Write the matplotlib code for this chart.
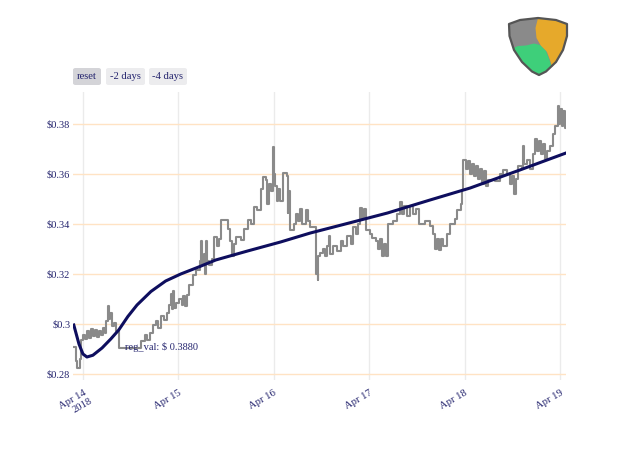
import matplotlib
matplotlib.use("Agg")
import matplotlib.pyplot as plt
from matplotlib.patches import Polygon, FancyBboxPatch

plt.rcParams['font.family'] = ['Liberation Serif', 'DejaVu Serif']

# hours since Apr 14 2018 00:00, price in USD
price_hours = [
    -2.5, -1.8, -1.5, -0.8, -0.5, 0.0, 0.5, 1.0, 1.5, 2.0, 2.5, 3.0, 3.5, 4.0, 4.5,
    5.0, 5.5, 5.8, 6.3, 6.5, 6.8, 7.3, 7.8, 8.3, 9.0, 14.6, 15.6, 16.1, 16.8, 17.6,
    18.3, 18.8, 19.6, 20.3, 21.1, 21.6, 22.1, 22.3, 22.6, 22.8, 23.4, 24.1, 24.8, 25.1,
    25.6, 26.1, 26.6, 27.6, 28.4, 29.4, 29.6, 29.9, 30.4, 30.6, 30.9, 31.1, 31.6, 32.4,
    32.9, 33.6, 34.1, 34.6, 35.6, 36.4, 36.9, 37.4, 37.9, 38.4, 39.7, 40.4, 41.4, 42.2,
    42.9, 43.9, 44.7, 45.2, 46.0, 46.4, 46.7, 47.2, 47.7, 48.0, 48.2, 48.7, 49.0, 49.5,
    50.2, 51.2, 51.5, 51.7, 52.0, 52.2, 53.0, 53.5, 54.0, 54.7, 55.2, 56.0, 56.5, 57.2,
    58.5, 58.7, 59.0, 59.2, 59.7, 60.5, 61.0, 61.5, 62.0, 62.2, 63.0, 64.0, 64.8, 65.5,
    66.5, 67.3, 68.0, 68.8, 69.3, 69.8, 70.3, 70.8, 71.3, 72.1, 72.8, 73.6, 74.3, 74.8,
    75.3, 75.8, 76.3, 76.8, 78.0, 79.1, 79.8, 80.3, 80.8, 81.6, 82.3, 83.1, 83.8, 84.6,
    86.1, 87.3, 88.1, 88.6, 89.1, 89.6, 90.1, 90.6, 91.6, 92.4, 93.6, 94.1, 95.1, 95.4,
    95.6, 96.4, 96.9, 97.4, 97.9, 98.4, 98.9, 99.4, 99.9, 100.4, 100.9, 101.4, 101.9,
    103.7, 104.9, 105.7, 106.7, 107.4, 107.9, 108.4, 108.9, 109.4, 110.4, 110.7, 110.9,
    111.7, 112.5, 113.2, 113.7, 114.2, 114.7, 115.2, 115.7, 116.2, 116.7, 117.5, 118.2,
    118.7, 119.5, 119.7, 120.0, 120.5, 120.8, 121.3, 121.5,
]
price_vals = [
    0.2908, 0.2850, 0.2824, 0.2860, 0.2936, 0.2955, 0.2940, 0.2970, 0.2945, 0.2980, 0.2950,
    0.2975, 0.2948, 0.2972, 0.2955, 0.2985, 0.2965, 0.3010, 0.3070, 0.3020, 0.3045, 0.2990,
    0.3005, 0.2970, 0.2904, 0.2930, 0.2955, 0.2935, 0.2965, 0.2995, 0.3010, 0.2985, 0.3030,
    0.3015, 0.3045, 0.3075, 0.3120, 0.3060, 0.3130, 0.3065, 0.3085, 0.3100, 0.3075, 0.3110,
    0.3070, 0.3116, 0.3156, 0.3196, 0.3216, 0.3250, 0.3330, 0.3240, 0.3280, 0.3200, 0.3330,
    0.3250, 0.3235, 0.3260, 0.3348, 0.3310, 0.3340, 0.3416, 0.3416, 0.3380, 0.3330, 0.3270,
    0.3320, 0.3348, 0.3335, 0.3380, 0.3416, 0.3400, 0.3468, 0.3455, 0.3540, 0.3588, 0.3575,
    0.3480, 0.3560, 0.3530, 0.3708, 0.3600, 0.3550, 0.3490, 0.3540, 0.3490, 0.3604, 0.3590,
    0.3444, 0.3530, 0.3430, 0.3376, 0.3400, 0.3440, 0.3410, 0.3460, 0.3400, 0.3455, 0.3410,
    0.3388, 0.3330, 0.3200, 0.3176, 0.3270, 0.3284, 0.3300, 0.3270, 0.3310, 0.3350, 0.3280,
    0.3310, 0.3290, 0.3330, 0.3310, 0.3350, 0.3320, 0.3388, 0.3360, 0.3400, 0.3464, 0.3420,
    0.3460, 0.3376, 0.3360, 0.3345, 0.3330, 0.3300, 0.3340, 0.3270, 0.3320, 0.3270, 0.3400,
    0.3410, 0.3440, 0.3488, 0.3440, 0.3470, 0.3430, 0.3470, 0.3440, 0.3460, 0.3400, 0.3410,
    0.3390, 0.3360, 0.3300, 0.3340, 0.3296, 0.3340, 0.3310, 0.3360, 0.3400, 0.3420, 0.3456,
    0.3480, 0.3536, 0.3656, 0.3620, 0.3650, 0.3600, 0.3640, 0.3590, 0.3630, 0.3580, 0.3620,
    0.3560, 0.3610, 0.3550, 0.3576, 0.3570, 0.3600, 0.3616, 0.3600, 0.3560, 0.3590, 0.3520,
    0.3580, 0.3630, 0.3620, 0.3710, 0.3640, 0.3656, 0.3620, 0.3680, 0.3740, 0.3690, 0.3730,
    0.3680, 0.3720, 0.3660, 0.3690, 0.3710, 0.3760, 0.3790, 0.3870, 0.3800, 0.3860, 0.3790,
    0.3850, 0.3785, 0.3785,
]

reg_hours = [-2.3, -1.0, 0.0, 1.0, 2.5, 4.8, 7.0, 9.0, 11.3, 13.6, 17.1, 20.8, 24.6,
             29.1, 33.4, 41.4, 49.7, 57.2, 65.5, 76.6, 87.3, 97.4, 109.9, 121.5]
reg_vals = [0.2996, 0.2920, 0.2880, 0.2868, 0.2875, 0.2904, 0.2940, 0.2976, 0.3030,
            0.3076, 0.3130, 0.3172, 0.3200, 0.3228, 0.3256, 0.3292, 0.3328, 0.3364,
            0.3398, 0.3444, 0.3496, 0.3544, 0.3616, 0.3684]

tick_hours = [0, 24, 48, 72, 96, 120]
tick_labels = ['Apr 14', 'Apr 15', 'Apr 16', 'Apr 17', 'Apr 18', 'Apr 19']
year_label = '2018'
y_ticks = [0.28, 0.30, 0.32, 0.34, 0.36, 0.38]
y_labels = ['$0.28', '$0.3', '$0.32', '$0.34', '$0.36', '$0.38']
reg_text = 'reg_val: $ 0.3880'

txt_color = '#24246e'
fs = 7.2

fig = plt.figure(figsize=(6.4, 4.57), dpi=100)
ax = fig.add_axes([73 / 640, 1 - 380 / 457, 493 / 640, 288 / 457])

ax.plot(price_hours, price_vals, drawstyle='steps-post', color='#8a8a8a', lw=1.5, zorder=2)
ax.plot(reg_hours, reg_vals, color='#0e0e5e', lw=2.2, zorder=3)

ax.set_xlim(-2.5, 121.5)
ax.set_ylim(0.2776, 0.3928)
ax.set_xticks(tick_hours)
ax.set_xticklabels(tick_labels, rotation=30, ha='right', va='top',
                   rotation_mode='anchor', fontsize=fs + 0.4, color=txt_color)
ax.set_yticks(y_ticks)
ax.set_yticklabels(y_labels, fontsize=fs + 0.3, color=txt_color)
ax.tick_params(length=0, pad=2)
ax.tick_params(axis='x', pad=6)
# second line under the first tick label
ax.annotate(year_label, xy=(tick_hours[0], 0), xycoords=('data', 'axes fraction'),
            xytext=(6, -16), textcoords='offset pixels', rotation=30, ha='right',
            va='top', rotation_mode='anchor', fontsize=fs + 0.4, color=txt_color)
for s in ax.spines.values():
    s.set_visible(False)
ax.grid(axis='y', color='#ffe3c4', lw=1)
ax.grid(axis='x', color='#ebebeb', lw=1)
ax.set_axisbelow(True)

ax.text(10.5, 0.2908, reg_text, fontsize=fs + 0.3, color=txt_color, va='center',
        ha='left', zorder=4)

# range buttons
buttons = [('reset', 73, 101, '#d4d4d8'), ('-2 days', 106, 145, '#ececee'),
           ('-4 days', 149, 187, '#ececee')]
for label, x0, x1, bg in buttons:
    box = FancyBboxPatch((x0 / 640, 1 - 85 / 457), (x1 - x0) / 640, 17 / 457,
                         boxstyle='round,pad=0,rounding_size=0.004',
                         transform=fig.transFigure, facecolor=bg, edgecolor='none')
    fig.patches.append(box)
    fig.text((x0 + x1) / 2 / 640, 1 - 76.5 / 457, label, fontsize=fs + 0.5,
             color=txt_color, ha='center', va='center')

# logo (NEM)
lax = fig.add_axes([500 / 640, 1 - 82 / 457, 76 / 640, 72 / 457])
lax.set_xlim(500, 576)
lax.set_ylim(82, 10)
lax.axis('off')
shield = [(509, 24), (520, 20), (538, 18), (556, 20), (567, 24), (567, 36),
          (563, 50), (556, 62), (546, 71.5), (539, 75), (532, 71.5), (522, 62),
          (514, 50), (509.5, 36)]
orange = [(538, 18.1), (556, 20.1), (566.8, 24), (566.8, 36), (563, 50), (557, 61),
          (552, 67), (550, 60), (547, 52), (541, 46), (536.5, 38), (535.5, 28)]
green = [(513.5, 48), (518, 46), (526, 45.5), (534, 43.5), (540, 45), (546, 51),
         (549.5, 60), (551.5, 67), (546, 71.5), (539, 75), (532, 71.5), (522, 62), (514, 50)]
lax.add_patch(Polygon(shield, closed=True, facecolor='#8a8a8a', edgecolor='none'))
lax.add_patch(Polygon(orange, closed=True, facecolor='#e6a92b', edgecolor='none'))
lax.add_patch(Polygon(green, closed=True, facecolor='#3ecf7a', edgecolor='none'))
lax.add_patch(Polygon(shield, closed=True, facecolor='none', edgecolor='#555555',
                      lw=1.6, joinstyle='round'))

fig.savefig('out.png', dpi=100)
